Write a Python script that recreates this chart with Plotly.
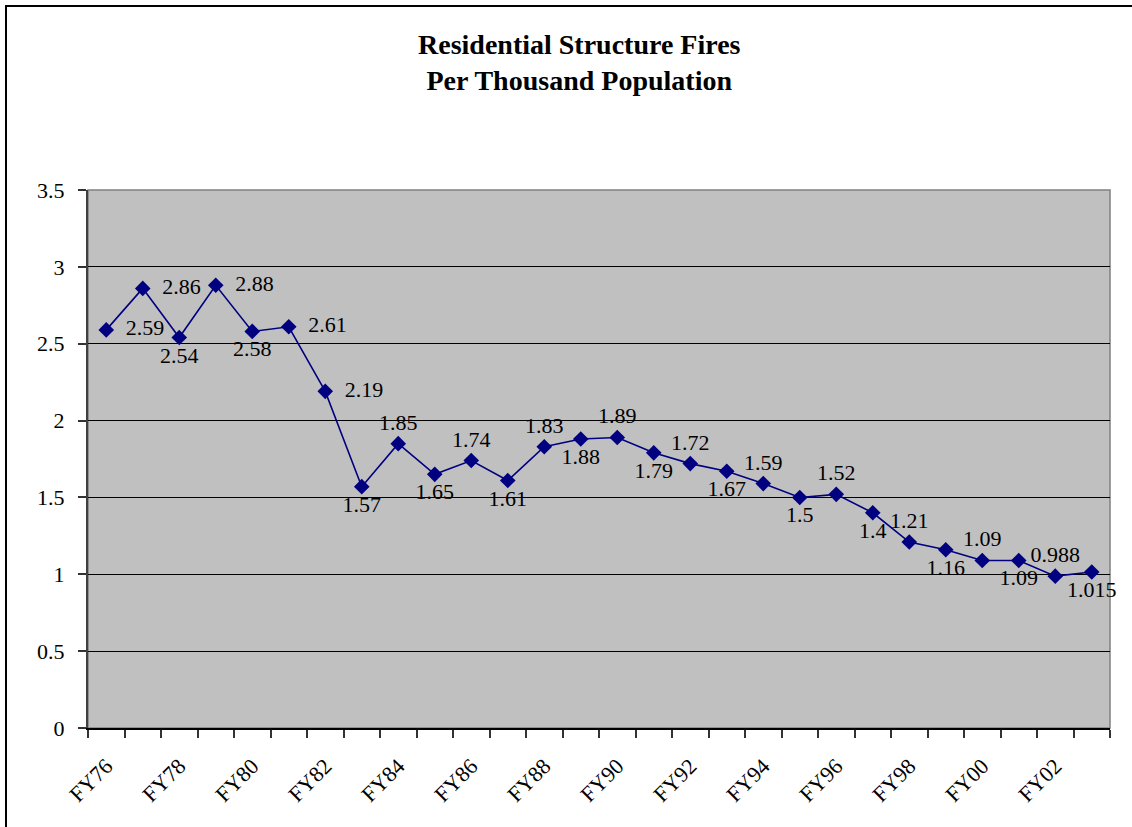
import plotly.graph_objects as go

# Fiscal years and residential structure fires per thousand population
years = ["FY76", "FY77", "FY78", "FY79", "FY80", "FY81", "FY82", "FY83",
         "FY84", "FY85", "FY86", "FY87", "FY88", "FY89", "FY90", "FY91",
         "FY92", "FY93", "FY94", "FY95", "FY96", "FY97", "FY98", "FY99",
         "FY00", "FY01", "FY02", "FY03"]
fires_per_thousand = [2.59, 2.86, 2.54, 2.88, 2.58, 2.61, 2.19, 1.57,
                      1.85, 1.65, 1.74, 1.61, 1.83, 1.88, 1.89, 1.79,
                      1.72, 1.67, 1.59, 1.5, 1.52, 1.4, 1.21, 1.16,
                      1.09, 1.09, 0.988, 1.015]
value_labels = ["2.59", "2.86", "2.54", "2.88", "2.58", "2.61", "2.19", "1.57",
                "1.85", "1.65", "1.74", "1.61", "1.83", "1.88", "1.89", "1.79",
                "1.72", "1.67", "1.59", "1.5", "1.52", "1.4", "1.21", "1.16",
                "1.09", "1.09", "0.988", "1.015"]
axis_labels = ["FY76", "FY78", "FY80", "FY82", "FY84", "FY86", "FY88",
               "FY90", "FY92", "FY94", "FY96", "FY98", "FY00", "FY02"]
y_ticks = [0, 0.5, 1, 1.5, 2, 2.5, 3, 3.5]
y_tick_text = ["0", "0.5", "1", "1.5", "2", "2.5", "3", "3.5"]

# where each value label sits relative to its marker
label_pos = ["middle right", "middle right", "bottom center", "middle right",
             "bottom center", "middle right", "middle right", "bottom center",
             "top center", "bottom center", "top center", "bottom center",
             "top center", "bottom center", "top center", "bottom center",
             "top center", "bottom center", "top center", "bottom center",
             "top center", "bottom center", "top center", "bottom center",
             "top center", "bottom center", "top center", "bottom center"]

SERIF = "Liberation Serif, Times New Roman, serif"
NAVY = "#000080"

fig = go.Figure()
fig.add_trace(go.Scatter(
    x=years, y=fires_per_thousand,
    mode="lines+markers+text",
    text=[" " * 2 + t if p == "middle right" else t
          for t, p in zip(value_labels, label_pos)],
    textposition=label_pos,
    textfont=dict(family=SERIF, size=22, color="black"),
    line=dict(color=NAVY, width=1.6),
    marker=dict(symbol="diamond", size=12, color=NAVY),
    cliponaxis=False,
    showlegend=False,
    hoverinfo="x+y",
))
# carrier trace for the every-other-year label axis
fig.add_trace(go.Scatter(
    x=years, y=fires_per_thousand, xaxis="x2", mode="none",
    showlegend=False, hoverinfo="skip",
))

L, R, T, B = 88, 22, 190, 99
W, H = 1132, 827
pw = W - L - R
ph = H - T - B

fig.update_layout(
    width=W, height=H,
    margin=dict(l=L, r=R, t=T, b=B),
    paper_bgcolor="white",
    plot_bgcolor="#C0C0C0",
    font=dict(family=SERIF, color="black"),
    xaxis=dict(
        type="category", categoryorder="array", categoryarray=years,
        range=[-0.5, len(years) - 0.5],
        tickson="boundaries", ticks="outside", ticklen=8,
        tickcolor="#333333", tickwidth=1.5,
        showticklabels=False, showgrid=False,
        showline=True, linecolor="black", linewidth=1.5,
        zeroline=False,
    ),
    xaxis2=dict(
        type="category", categoryorder="array", categoryarray=years,
        range=[-0.5, len(years) - 0.5],
        overlaying="x", side="bottom", anchor="y",
        tickvals=axis_labels, ticktext=axis_labels,
        ticks="", tickangle=-45, ticklabelstandoff=20,
        tickfont=dict(family=SERIF, size=22, color="black"),
        showgrid=False, showline=False, zeroline=False,
    ),
    yaxis=dict(
        range=[0, 3.5], tickvals=y_ticks, ticktext=y_tick_text,
        ticks="outside", ticklen=8, tickcolor="#333333", tickwidth=1.5,
        ticklabelstandoff=9,
        tickfont=dict(family=SERIF, size=22, color="black"),
        showgrid=True, gridcolor="black", gridwidth=1,
        showline=True, linecolor="#404040", linewidth=2,
        zeroline=False,
    ),
    shapes=[
        # plot area border
        dict(type="rect", xref="paper", yref="paper", x0=0, x1=1, y0=0, y1=1,
             line=dict(color="#808080", width=1.5), layer="below"),
        # chart frame
        dict(type="rect", xref="paper", yref="paper",
             x0=(6 - L) / pw, x1=(W + 20 - L) / pw,
             y0=-(H + 20 - T - ph) / ph, y1=1 + (T - 6) / ph,
             line=dict(color="black", width=2)),
    ],
    annotations=[
        dict(text="<b>Residential Structure Fires<br>Per Thousand Population</b>",
             xref="paper", yref="paper",
             x=(579 - L) / pw, y=1 + (T - 62) / ph,
             xanchor="center", yanchor="middle", showarrow=False,
             align="center",
             font=dict(family=SERIF, size=28, color="black")),
    ],
)

fig.write_html("out.html")
